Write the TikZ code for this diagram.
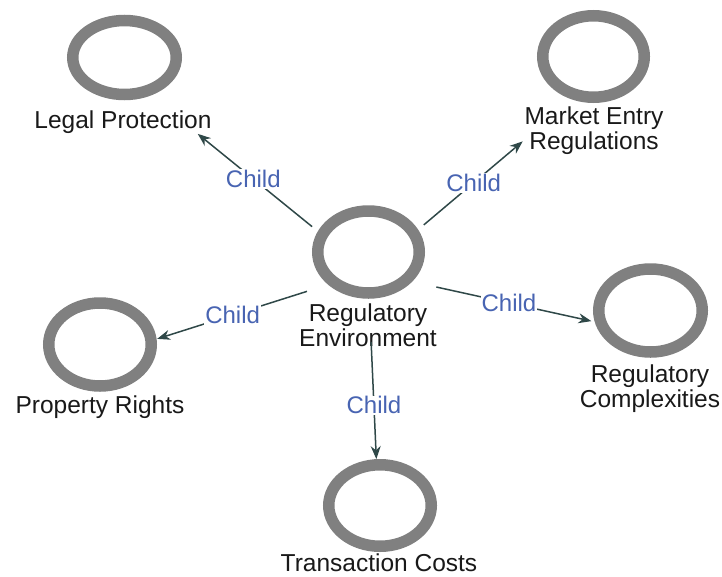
\documentclass[tikz,border=0pt]{standalone}
\usepackage{fontspec}
\setmainfont{Liberation Sans}
\usetikzlibrary{shapes.geometric,arrows.meta}
\definecolor{ringgray}{RGB}{128,128,128}
\definecolor{arrowcol}{RGB}{47,72,72}
\definecolor{labelblue}{RGB}{72,100,178}
\definecolor{textcol}{RGB}{25,25,25}
\begin{document}
\begin{tikzpicture}[x=1pt,y=-1pt,
  ring/.style={ellipse,draw=ringgray,line width=11.5pt,inner sep=0pt},
  nametext/.style={anchor=north,align=center,inner sep=0pt,text=textcol,
    font=\fontsize{24.5}{25}\selectfont},
  grp/.style={coordinate},
  link/.style={draw=arrowcol,line width=1.5pt,-{Stealth[length=13pt,width=10pt]}},
  childlbl/.style={fill=white,inner sep=1pt,text=labelblue,
    font=\fontsize{24}{25}\selectfont}]
\useasboundingbox (0,0) rectangle (722,576);
% rings
\node[ring,minimum width=101.5pt,minimum height=82pt] (c)  at (368.5,252) {};
\node[ring,minimum width=103.5pt,minimum height=74pt] (lp) at (124.5,57.5) {};
\node[ring,minimum width=101.5pt,minimum height=81.5pt] (me) at (593.5,56.5) {};
\node[ring,minimum width=102.5pt,minimum height=83pt] (pr) at (100,344.5) {};
\node[ring,minimum width=103.5pt,minimum height=83pt] (rc) at (650.5,310.5) {};
\node[ring,minimum width=102.5pt,minimum height=81.5pt] (tc) at (380,505.5) {};
% names
\node[nametext] (ct)  at (368,304) {Regulatory\\Environment};
\node[nametext] (lpt) at (123,111) {Legal Protection};
\node[nametext] (met) at (594,107) {Market Entry\\Regulations};
\node[nametext] (prt) at (100,396) {Property Rights};
\node[nametext] (rct) at (650,365) {Regulatory\\Complexities};
\node[nametext,font=\fontsize{24.5}{25}\selectfont,anchor=base] (tct) at (379,571) {Transaction Costs};
% group centres
\node[grp] (g0) at (368,272) {};
\node[grp] (g1) at (124,74) {};
\node[grp] (g2) at (593,82) {};
\node[grp] (g3) at (100,357) {};
\node[grp] (g4) at (650,334) {};
\node[grp] (g5) at (379,519) {};
% connectors
\draw[link,shorten <=72pt,shorten >=95pt] (g0) -- node[childlbl,pos=0.47] (l1) {Child} (g1);
\draw[link,shorten <=73pt,shorten >=92pt] (g0) -- node[childlbl,pos=0.47] (l2) {Child} (g2);
\draw[link,shorten <=64pt,shorten >=60pt] (g0) -- node[childlbl,pos=0.505] (l3) {Child} (g3);
\draw[link,shorten <=70pt,shorten >=60pt] (g0) -- node[childlbl,pos=0.5] (l4) {Child} (g4);
\draw[link,shorten <=70pt,shorten >=60pt] (g0) -- node[childlbl,pos=0.54] (l5) {Child} (g5);
\end{tikzpicture}
\end{document}
